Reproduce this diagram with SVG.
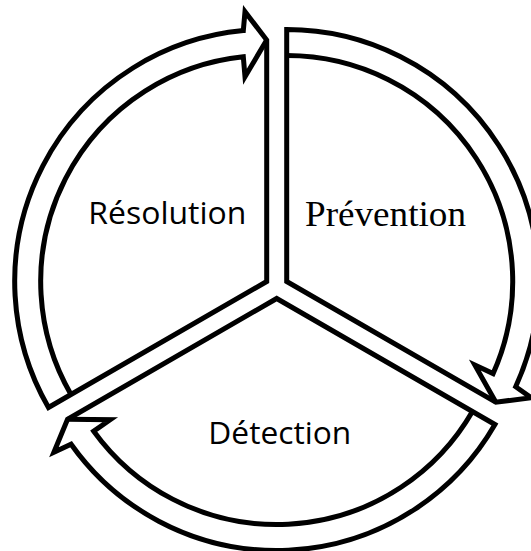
<svg xmlns="http://www.w3.org/2000/svg" xmlns:xlink="http://www.w3.org/1999/xlink" width="531" height="551" viewBox="0 0 531 551">
<style>
.wedge{fill:#fff;stroke:#000;stroke-width:5;stroke-linejoin:miter;stroke-miterlimit:10}
.band{fill:none;stroke:#000;stroke-width:5;stroke-linejoin:miter;stroke-miterlimit:10}
.sans{font-family:"Open Sans","Noto Sans",sans-serif;font-size:31.5px;fill:#000}
.serif{font-family:"Liberation Serif","Times New Roman",serif;font-size:35px;fill:#000}
</style>
<defs>
<path id="wedgeT" d="M0,0 L-218.24,126 A252 252 0 0 1 -23.4,-250.9 L-21.7,-269.8 L0,-241.5 Z"/>
<path id="bandT" d="M-195.72,113 A226 226 0 0 1 -23.4,-224.8 L-21.7,-204.8 L0,-241.5"/>
</defs>
<g id="node-resolution">
<use xlink:href="#wedgeT" class="wedge" transform="translate(266.7,281.5)"/>
<text class="sans" x="88.3" y="224.3" textLength="158" lengthAdjust="spacingAndGlyphs">Résolution</text>
</g>
<g id="node-prevention">
<use xlink:href="#wedgeT" class="wedge" transform="translate(286.7,281.5) rotate(120)"/>
<text class="serif" x="305" y="225.5" textLength="161" lengthAdjust="spacingAndGlyphs">Prévention</text>
</g>
<g id="node-detection">
<use xlink:href="#wedgeT" class="wedge" transform="translate(276.7,298.5) rotate(240)"/>
<text class="sans" x="208.3" y="444.3" textLength="143" lengthAdjust="spacingAndGlyphs">Détection</text>
</g>
<g id="connectors">
<use xlink:href="#bandT" class="band" transform="translate(266.7,281.5)"/>
<use xlink:href="#bandT" class="band" transform="translate(286.7,281.5) rotate(120)"/>
<use xlink:href="#bandT" class="band" transform="translate(276.7,298.5) rotate(240)"/>
</g>
</svg>
